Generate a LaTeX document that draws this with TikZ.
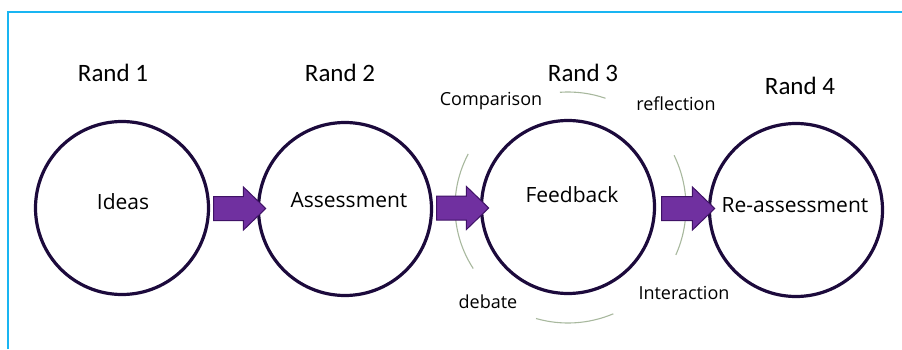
\documentclass[tikz,border=0pt]{standalone}
\usepackage{fontspec}
\setmainfont{Open Sans}
\newfontfamily\randfont{Carlito}
\usetikzlibrary{arrows.meta,positioning,shapes.arrows}

\definecolor{ringline}{HTML}{1C0A3C}
\definecolor{blockfill}{HTML}{7030A0}
\definecolor{blockline}{HTML}{3F1266}
\definecolor{loopline}{HTML}{A8B89E}
\definecolor{frameblue}{HTML}{19B5F2}

\begin{document}
\begin{tikzpicture}[
    x=1pt, y=1pt,
    stage/.style={
        circle,
        draw=ringline,
        line width=3.2pt,
        minimum size=173pt,
        inner sep=0pt
    },
    stagetext/.style={font=\fontsize{21}{24}\selectfont, inner sep=0pt},
    rand/.style={font=\randfont\fontsize{25}{28}\selectfont, inner sep=0pt},
    side/.style={font=\fontsize{18}{21}\selectfont, inner sep=0pt},
    blockarrow/.style={
        single arrow,
        draw=blockline,
        fill=blockfill,
        line width=1pt,
        inner xsep=0pt, inner ysep=11.5pt,
        single arrow head extend=9.5pt,
        single arrow tip angle=88,
        anchor=center
    },
    loop/.style={draw=loopline, line width=1.1pt}
]

    % --- FRAME ---
    \useasboundingbox (0,0) rectangle (902,349);
    \draw[frameblue, line width=1.8pt] (8,0) -- (8,337) -- (902,337);

    % --- STAGES ---
    \node[stage] (ideas) at (122,141) {};
    \node[stage] (assess) at (345,140) {};
    \node[stage] (feedback) at (568,142) {};
    \node[stage] (reassess) at (796,139) {};

    \node[stagetext] at ([shift={(1,6)}]ideas) {Ideas};
    \node[stagetext] at ([shift={(4,9)}]assess) {Assessment};
    \node[stagetext] at ([shift={(4,12)}]feedback) {Feedback};
    \node[stagetext] at ([shift={(-1,5)}]reassess) {Re-assessment};

    % --- ROUND LABELS ---
    \node[rand] (r1) at (113,276) {Rand 1};
    \node[rand] (r2) at (340,276) {Rand 2};
    \node[rand] (r3) at (583,276) {Rand 3};
    \node[rand] (r4) at (800,263) {Rand 4};

    % --- LOOP AROUND FEEDBACK ---
    \draw[loop] (feedback.center) ++(71:115pt) arc[start angle=71, end angle=94, radius=115pt];
    \draw[loop] (feedback.center) ++(152:113pt) arc[start angle=152, end angle=213, radius=113pt];
    \draw[loop] (feedback.center) ++(-24:118pt) arc[start angle=-24, end angle=26, radius=118pt];
    \draw[loop] (feedback.center) ++(254:116pt) arc[start angle=254, end angle=293, radius=116pt];

    \node[side] (comp) at (491,248) {Comparison};
    \node[side] (refl) at (676,245) {reflection};
    \node[side] (deb) at (488,47) {debate};
    \node[side] (inter) at (684,56) {Interaction};

    % --- ARROWS ---
    \path (ideas.east) -- (assess.west)
        node[blockarrow, midway, minimum height=52pt] (a1) {};
    \path (assess.east) -- (feedback.west)
        node[blockarrow, midway, minimum height=52pt] (a2) {};
    \path (feedback.east) -- (reassess.west)
        node[blockarrow, midway, minimum height=53pt] (a3) {};

\end{tikzpicture}
\end{document}
